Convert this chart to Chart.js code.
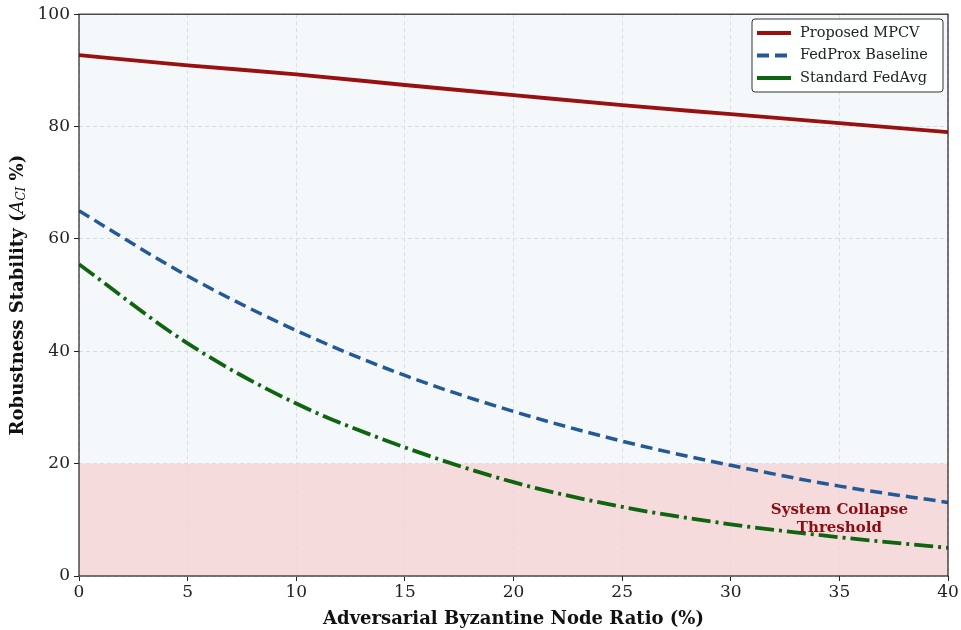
<!DOCTYPE html>
<html>
<head>
<meta charset="utf-8">
<script src="https://cdn.jsdelivr.net/npm/chart.js@4.4.1/dist/chart.umd.min.js"></script>
<style>
  html, body { margin: 0; padding: 0; background: #fff; }
  #wrap { width: 961px; height: 630px; }
</style>
</head>
<body>
<div id="wrap"><canvas id="c" width="961" height="630"></canvas></div>
<script>
const ratios = [0, 5, 10, 15, 20, 25, 30, 35, 40];
const proposedMpcv = [92.7, 90.9, 89.3, 87.4, 85.6, 83.8, 82.2, 80.6, 79.0];
const fedProx = [65.0, 53.4, 43.7, 35.7, 29.3, 24.0, 19.7, 16.0, 13.1];
const fedAvg = [55.5, 41.4, 30.7, 22.9, 16.7, 12.3, 9.2, 6.9, 5.0];
const collapseLevel = 20;
const yTicks = [0, 20, 40, 60, 80, 100];

const FONT = "'DejaVu Serif', serif";

function pts(vals) {
  return ratios.map((x, i) => ({ x: x, y: vals[i] }));
}

const bgPlugin = {
  id: 'bgZones',
  beforeDraw(chart) {
    const { ctx, chartArea: a } = chart;
    ctx.save();
    ctx.fillStyle = '#f5f8fb';
    ctx.fillRect(a.left, a.top, a.right - a.left, a.bottom - a.top);
    ctx.restore();
  },
  beforeDatasetsDraw(chart) {
    const { ctx, chartArea: a, scales: { y } } = chart;
    ctx.save();
    ctx.fillStyle = 'rgba(246, 210, 210, 0.75)';
    const top = y.getPixelForValue(collapseLevel);
    ctx.fillRect(a.left, top, a.right - a.left, a.bottom - top);
    ctx.restore();
  },
  afterDatasetsDraw(chart) {
    const { ctx, scales: { x, y } } = chart;
    ctx.save();
    ctx.fillStyle = '#8b0d14';
    ctx.font = 'bold 15px ' + FONT;
    ctx.textAlign = 'center';
    ctx.textBaseline = 'middle';
    const cx = x.getPixelForValue(35.0);
    ctx.fillText('System Collapse', cx, y.getPixelForValue(11.7));
    ctx.fillText('Threshold', cx, y.getPixelForValue(8.6));
    ctx.restore();
  }
};

const framePlugin = {
  id: 'frame',
  afterDraw(chart) {
    const { ctx, chartArea: a } = chart;
    ctx.save();
    ctx.strokeStyle = '#222';
    ctx.lineWidth = 1.2;
    ctx.strokeRect(a.left, a.top, a.right - a.left, a.bottom - a.top);

    // y axis title with italic subscript
    ctx.translate(18, (a.top + a.bottom) / 2);
    ctx.rotate(-Math.PI / 2);
    ctx.fillStyle = '#111';
    ctx.textBaseline = 'middle';
    const parts = [
      { t: 'Robustness Stability (', f: 'bold 18px ' + FONT, dy: 0 },
      { t: 'A', f: 'italic 18px ' + FONT, dy: 0 },
      { t: 'CI', f: 'italic 12px ' + FONT, dy: 4 },
      { t: ' %)', f: 'bold 18px ' + FONT, dy: 0 }
    ];
    let w = 0;
    parts.forEach(p => { ctx.font = p.f; p.w = ctx.measureText(p.t).width; w += p.w; });
    let px = -w / 2;
    parts.forEach(p => { ctx.font = p.f; ctx.fillText(p.t, px, p.dy); px += p.w; });
    ctx.restore();

    // legend
    ctx.save();
    const lx = 752, ly = 19, lw = 191, lh = 73;
    ctx.fillStyle = 'rgba(255,255,255,0.9)';
    ctx.strokeStyle = '#333';
    ctx.lineWidth = 1;
    ctx.beginPath();
    ctx.roundRect(lx, ly, lw, lh, 3);
    ctx.fill();
    ctx.stroke();
    ctx.font = '14.5px ' + FONT;
    ctx.textBaseline = 'middle';
    chart.data.datasets.forEach((ds, i) => {
      const yy = ly + 14 + i * 22.5;
      ctx.strokeStyle = ds.borderColor;
      ctx.lineWidth = 3.8;
      ctx.setLineDash(ds.legendDash || []);
      ctx.beginPath();
      ctx.moveTo(lx + 5, yy);
      ctx.lineTo(lx + 39, yy);
      ctx.stroke();
      ctx.setLineDash([]);
      ctx.fillStyle = '#222';
      ctx.fillText(ds.label, lx + 48, yy);
    });
    ctx.restore();
  }
};

new Chart(document.getElementById('c'), {
  type: 'line',
  data: {
    datasets: [
      {
        label: 'Proposed MPCV',
        data: pts(proposedMpcv),
        borderColor: '#991010',
        borderWidth: 3.8,
        pointRadius: 0,
        cubicInterpolationMode: 'monotone',
        legendDash: []
      },
      {
        label: 'FedProx Baseline',
        data: pts(fedProx),
        borderColor: '#235a96',
        borderWidth: 3.5,
        borderDash: [12, 6],
        pointRadius: 0,
        cubicInterpolationMode: 'monotone',
        legendDash: [12, 6]
      },
      {
        label: 'Standard FedAvg',
        data: pts(fedAvg),
        borderColor: '#0f640f',
        borderWidth: 3.8,
        borderDash: [19, 5, 3, 5],
        pointRadius: 0,
        cubicInterpolationMode: 'monotone',
        legendDash: []
      }
    ]
  },
  options: {
    responsive: false,
    animation: false,
    layout: { padding: { left: 0, right: 13, top: 13, bottom: 0 } },
    plugins: {
      legend: { display: false },
      tooltip: { enabled: false }
    },
    scales: {
      x: {
        type: 'linear',
        min: 0,
        max: 40,
        afterFit(s) { s.height = 54; },
        ticks: { stepSize: 5, color: '#222', font: { family: FONT, size: 17 }, padding: 1 },
        grid: { color: '#dcdde2', tickColor: '#222', tickLength: 5, drawTicks: true },
        border: { display: false, dash: [4, 3] },
        title: {
          display: true,
          text: 'Adversarial Byzantine Node Ratio (%)',
          color: '#111',
          font: { family: FONT, size: 18, weight: 'bold' },
          padding: { top: 0, bottom: 0 }
        }
      },
      y: {
        min: 0,
        max: 100,
        afterFit(s) { s.width = 79; },
        afterBuildTicks(s) { s.ticks = yTicks.map(v => ({ value: v })); },
        ticks: { color: '#222', font: { family: FONT, size: 17 }, padding: 4 },
        grid: { color: '#dcdde2', tickColor: '#222', tickLength: 5 },
        border: { display: false, dash: [4, 3] }
      }
    }
  },
  plugins: [bgPlugin, framePlugin]
});
</script>
</body>
</html>
